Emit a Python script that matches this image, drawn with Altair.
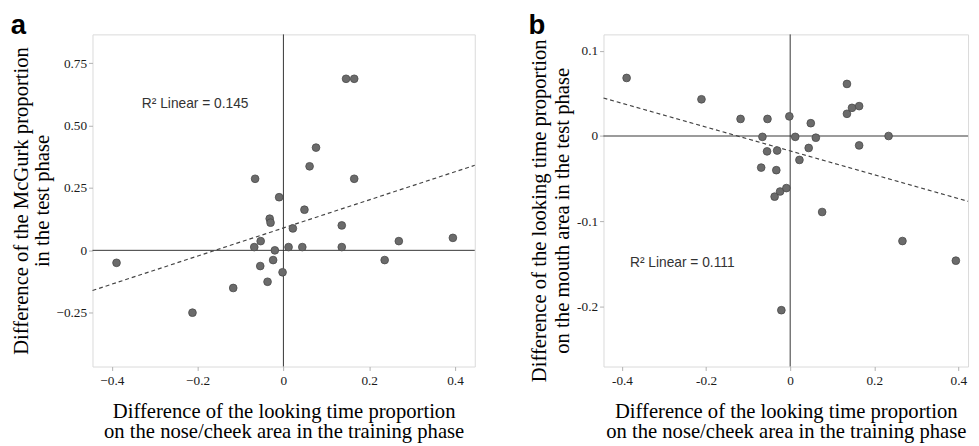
import altair as alt
import pandas as pd

# ---------------- data ----------------
# Panel a: x = difference in looking-time proportion (nose/cheek, training)
#          y = difference of McGurk proportion (test)
a_x = [-0.389, -0.212, -0.117, -0.066, -0.068, -0.053, -0.054, -0.037, -0.032, -0.030,
       -0.024, -0.020, -0.010, -0.002, 0.012, 0.022, 0.044, 0.049, 0.061, 0.076,
       0.136, 0.136, 0.146, 0.165, 0.165, 0.236, 0.269, 0.395]
a_y = [-0.050, -0.250, -0.151, 0.287, 0.013, 0.037, -0.063, -0.126, 0.127, 0.111,
       -0.039, 0.000, 0.213, -0.088, 0.013, 0.088, 0.013, 0.163, 0.337, 0.412,
       0.013, 0.100, 0.688, 0.688, 0.287, -0.039, 0.037, 0.050]

# Panel b: y = difference of looking-time proportion on the mouth area (test)
b_x = [-0.389, -0.211, -0.118, -0.054, -0.066, -0.055, -0.031, -0.069, -0.033, -0.037,
       -0.024, -0.009, -0.021, -0.002, 0.012, 0.022, 0.044, 0.049, 0.061, 0.076,
       0.135, 0.135, 0.147, 0.164, 0.164, 0.234, 0.267, 0.394]
b_y = [0.068, 0.043, 0.020, 0.020, -0.001, -0.018, -0.017, -0.037, -0.040, -0.071,
       -0.065, -0.061, -0.204, 0.023, -0.001, -0.028, -0.014, 0.015, -0.002, -0.089,
       0.061, 0.026, 0.033, 0.035, -0.011, 0.000, -0.123, -0.146]

# Linear fit lines (end points)
fit_a_x = [-0.445, 0.446]
fit_a_y = [-0.161, 0.341]
fit_b_x = [-0.444, 0.423]
fit_b_y = [0.0445, -0.0765]

# R² annotations
r2_a_text = ["R\u00b2 Linear = 0.145"]
r2_a_x = [-0.33]
r2_a_y = [0.587]
r2_b_text = ["R\u00b2 Linear = 0.111"]
r2_b_x = [-0.381]
r2_b_y = [-0.149]

zero_line = [0]

a_x_ticks = [-0.4, -0.2, 0, 0.2, 0.4]
a_y_ticks = [-0.25, 0, 0.25, 0.5, 0.75]
b_x_ticks = [-0.4, -0.2, 0, 0.2, 0.4]
b_y_ticks = [-0.2, -0.1, 0, 0.1]

x_title = ["Difference of the looking time proportion",
           "on the nose/cheek area in the training phase"]
a_y_title = ["Difference of the McGurk proportion", "in the test phase"]
b_y_title = ["Difference of the looking time proportion",
             "on the mouth area in the test phase"]


def panel(xs, ys, fx, fy, txt, tx, ty, xdom, ydom, xticks, yticks,
          ytitle, letter, hyphen, y_lh, yfmt, w, h, title_y):
    if hyphen:
        xl = "datum.value == 0 ? '0' : replace(format(datum.value, '.1f'), '\u2212', '-')"
        yl = "datum.value == 0 ? '0' : replace(format(datum.value, '%s'), '\u2212', '-')" % yfmt
    else:
        xl = "datum.value == 0 ? '0' : format(datum.value, '.1f')"
        yl = "datum.value == 0 ? '0' : format(datum.value, '%s')" % yfmt
    X = alt.X("x:Q", scale=alt.Scale(domain=xdom, nice=False, zero=False),
              axis=alt.Axis(values=xticks, labelExpr=xl, title=x_title,
                            labelPadding=3, titlePadding=14, titleLineHeight=21))
    Y = alt.Y("y:Q", scale=alt.Scale(domain=ydom, nice=False, zero=False),
              axis=alt.Axis(values=yticks, labelExpr=yl, title=ytitle,
                            titlePadding=4, titleLineHeight=y_lh, titleY=title_y))

    pts = alt.Chart(pd.DataFrame({"x": xs, "y": ys})).mark_circle(
        size=62, color="#6b6b6b", opacity=1, stroke="#4a4a4a", strokeWidth=0.8
    ).encode(x=X, y=Y)
    vrule = alt.Chart(pd.DataFrame({"x": zero_line})).mark_rule(
        color="#333333", strokeWidth=1).encode(x=X)
    hrule = alt.Chart(pd.DataFrame({"y": zero_line})).mark_rule(
        color="#333333", strokeWidth=1).encode(y=Y)
    fit = alt.Chart(pd.DataFrame({"x": fx, "y": fy})).mark_line(
        color="#444444", strokeWidth=1.2, strokeDash=[4, 3]).encode(x=X, y=Y)
    lab = alt.Chart(pd.DataFrame({"x": tx, "y": ty, "t": txt})).mark_text(
        align="left", baseline="middle", font="Liberation Sans", fontSize=14,
        color="#333333").encode(x=X, y=Y, text="t:N")
    return alt.layer(vrule, hrule, fit, pts, lab).properties(
        width=w, height=h,
        title=alt.TitleParams(text=letter, anchor="start", font="Liberation Sans",
                              fontSize=28, fontWeight="bold", color="black",
                              offset=-6),
    )


pa = panel(a_x, a_y, fit_a_x, fit_a_y, r2_a_text, r2_a_x, r2_a_y,
           [-0.445, 0.446], [-0.466, 0.866], a_x_ticks, a_y_ticks,
           a_y_title, "a", False, 21, ".2f", 389, 338, 169)
pb = panel(b_x, b_y, fit_b_x, fit_b_y, r2_b_text, r2_b_x, r2_b_y,
           [-0.444, 0.423], [-0.27, 0.119], b_x_ticks, b_y_ticks,
           b_y_title, "b", True, 24, ".1f", 371, 338, 179)

chart = alt.hconcat(pa, pb, spacing=51).properties(
    padding={"left": 2, "top": 0, "right": 0, "bottom": 0},
    background="white",
).configure_view(
    stroke="#d9d9d9", strokeWidth=1
).configure_axis(
    grid=False, domain=False, tickColor="#b0b0b0", tickSize=4, labelPadding=2,
    labelFont="Liberation Serif", labelFontSize=13.5, labelColor="#1a1a1a",
    titleFont="Liberation Serif", titleFontSize=21, titleFontWeight="normal",
    titleColor="black",
)

chart.save("out.html", embed_options={"renderer": "svg", "actions": False})
